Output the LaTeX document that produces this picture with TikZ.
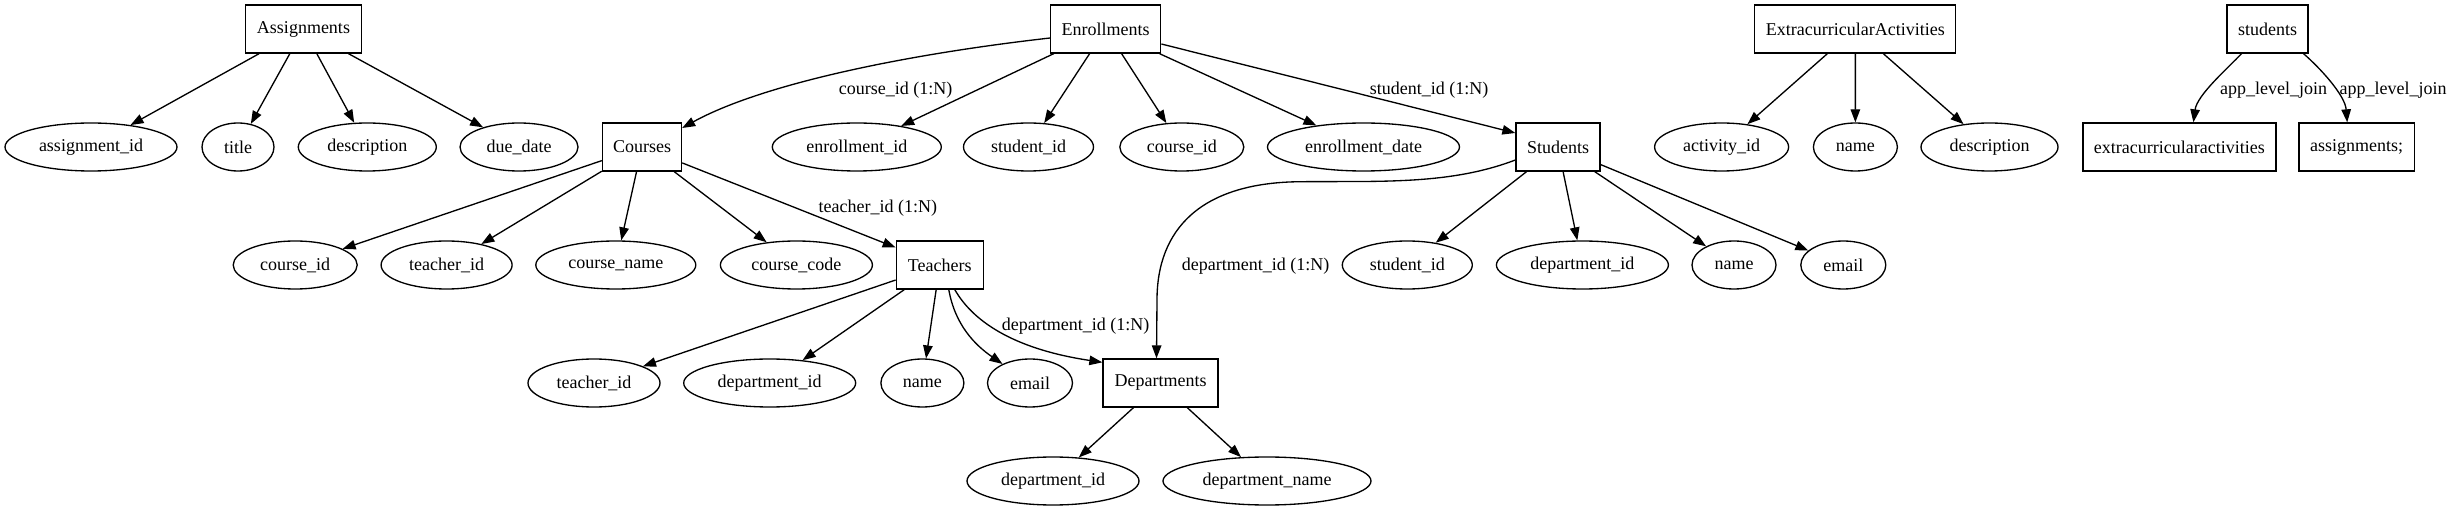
\documentclass[tikz,border=0pt]{standalone}
\usepackage{fontspec}
\setmainfont{Liberation Serif}
\usetikzlibrary{shapes.geometric,arrows.meta}
\begin{document}
\begin{tikzpicture}[x=1pt,y=-1pt,
  font=\fontsize{18pt}{22pt}\selectfont,
  box/.style={draw, rectangle, line width=1.33pt, minimum height=48pt, inner sep=0pt},
  attr/.style={draw, ellipse, line width=1.33pt, minimum height=48pt, inner sep=0pt},
  lbl/.style={inner sep=0pt},
  conn/.style={line width=1.33pt, -{Triangle[length=13pt,width=9.5pt]}}]
\useasboundingbox (0,0) rectangle (2453,510);
% entity boxes
\node[box, minimum width=116pt] (asg) at (303.5,29) {Assignments};
\node[box, minimum width=110pt] (enr) at (1105.7,29) {Enrollments};
\node[box, minimum width=201pt] (eca) at (1855.3,29) {ExtracurricularActivities};
\node[box, minimum width=81pt] (stl) at (2267.5,29) {students};
\node[box, minimum width=79pt] (cou) at (642,147) {Courses};
\node[box, minimum width=84pt] (stu) at (1558,147) {Students};
\node[box, minimum width=193pt] (exl) at (2179.4,147) {extracurricularactivities};
\node[box, minimum width=115.5pt] (asl) at (2356.7,147) {assignments;};
\node[box, minimum width=87pt] (tea) at (939.8,265) {Teachers};
\node[box, minimum width=115pt] (dep) at (1160.5,383) {Departments};
% row 1 attributes
\node[attr, minimum width=172pt] (a1) at (91,147) {assignment\_id};
\node[attr, minimum width=72pt] (a2) at (238,147) {title};
\node[attr, minimum width=138pt] (a3) at (367.3,147) {description};
\node[attr, minimum width=118pt] (a4) at (519,147) {due\_date};
\node[attr, minimum width=169pt] (e1) at (856.8,147) {enrollment\_id};
\node[attr, minimum width=130pt] (e2) at (1028.5,147) {student\_id};
\node[attr, minimum width=124pt] (e3) at (1181.8,147) {course\_id};
\node[attr, minimum width=192pt] (e4) at (1363.5,147) {enrollment\_date};
\node[attr, minimum width=134pt] (x1) at (1721.6,147) {activity\_id};
\node[attr, minimum width=84pt] (x2) at (1855.4,147) {name};
\node[attr, minimum width=137pt] (x3) at (1989.5,147) {description};
% row 2 attributes
\node[attr, minimum width=124pt] (c1) at (295.2,265) {course\_id};
\node[attr, minimum width=131pt] (c2) at (446.6,265) {teacher\_id};
\node[attr, minimum width=160pt] (c3) at (615.8,265) {course\_name};
\node[attr, minimum width=152pt] (c4) at (796.4,265) {course\_code};
\node[attr, minimum width=130pt] (s1) at (1407.3,265) {student\_id};
\node[attr, minimum width=172pt] (s2) at (1582.4,265) {department\_id};
\node[attr, minimum width=84pt] (s3) at (1734,265) {name};
\node[attr, minimum width=85pt] (s4) at (1843.3,265) {email};
% row 3 attributes
\node[attr, minimum width=132pt] (t1) at (594,383) {teacher\_id};
\node[attr, minimum width=172pt] (t2) at (769.7,383) {department\_id};
\node[attr, minimum width=83pt] (t3) at (922.4,383) {name};
\node[attr, minimum width=85pt] (t4) at (1030,383) {email};
% row 4 attributes
\node[attr, minimum width=172pt] (d1) at (1053,481) {department\_id};
\node[attr, minimum width=208pt] (d2) at (1267,481) {department\_name};
% edge labels
\node[lbl] (l1) at (895.5,90) {course\_id (1:N)};
\node[lbl] (l2) at (1429,90) {student\_id (1:N)};
\node[lbl] (l3) at (2273.7,90) {app\_level\_join};
\node[lbl] (l4) at (2393,90) {app\_level\_join};
\node[lbl] (l5) at (877.8,208) {teacher\_id (1:N)};
\node[lbl] (l6) at (1255.5,266) {department\_id (1:N)};
\node[lbl] (l7) at (1075.5,326) {department\_id (1:N)};
% connectors
\foreach \t in {a1,a2,a3,a4} \draw[conn] (asg) -- (\t);
\foreach \t in {e1,e2,e3,e4} \draw[conn] (enr) -- (\t);
\foreach \t in {x1,x2,x3} \draw[conn] (eca) -- (\t);
\foreach \t in {c1,c2,c3,c4} \draw[conn] (cou) -- (\t);
\foreach \t in {s1,s2,s3,s4} \draw[conn] (stu) -- (\t);
\foreach \t in {t1,t2,t3} \draw[conn] (tea) -- (\t);
\foreach \t in {d1,d2} \draw[conn] (dep) -- (\t);
\draw[conn] (cou) -- (tea);
\draw[conn] ([yshift=-9pt]enr.west) .. controls (900,55) and (760,85) .. ([yshift=19pt]cou.east);
\draw[conn] ([yshift=-15pt]enr.east) -- ([yshift=14pt]stu.west);
\draw[conn] ([yshift=-13pt]stu.west) .. controls (1450,185) and (1380,181) .. (1302,181.7)
  .. controls (1200,182) and (1157,230) .. (1157,300) -- ([xshift=-4pt]dep.north);
\draw[conn] ([xshift=15pt]tea.south) .. controls (975,325) and (1020,350) .. ([yshift=-4pt]dep.north west);
\draw[conn] ([xshift=9pt]tea.south) .. controls (955,325) and (975,345) .. (t4);
\draw[conn] ([xshift=-26pt]stl.south) .. controls (2228,68) and (2197,95) .. ([xshift=14pt]exl.north);
\draw[conn] ([xshift=36pt]stl.south) .. controls (2320,68) and (2345,95) .. ([xshift=-9.5pt]asl.north);
\end{tikzpicture}
\end{document}
